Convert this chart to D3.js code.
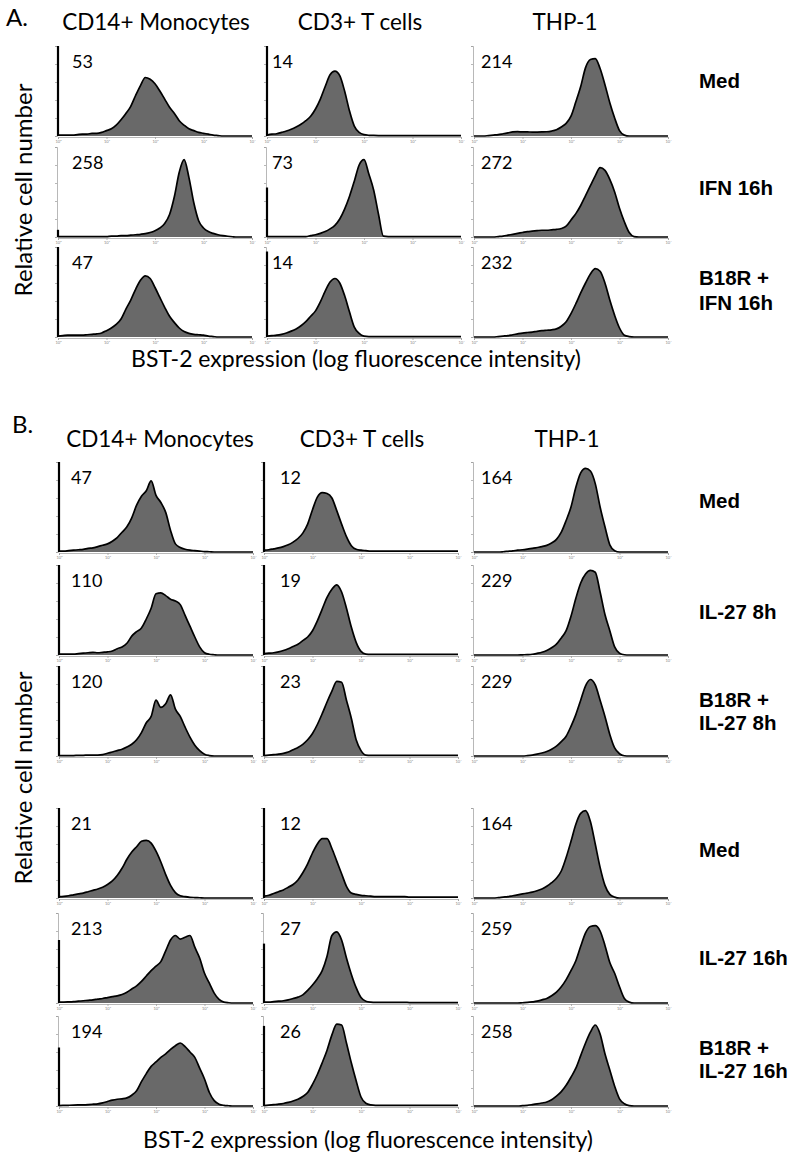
<!DOCTYPE html>
<html><head><meta charset="utf-8">
<script src="https://cdn.jsdelivr.net/npm/d3@7/dist/d3.min.js"></script>
<style>body{margin:0;background:#fff}svg{display:block}</style>
</head><body>
<svg id="chart" width="796" height="1159"></svg>
<script>
// ---------- DATA ----------
// histogram bins: log10 fluorescence channel (decades 10^0 .. 10^4)
const bins = [0,0.1,0.2,0.3,0.4,0.5,0.6,0.7,0.8,0.9,
              1,1.1,1.2,1.3,1.4,1.5,1.6,1.7,1.8,1.9,
              2,2.1,2.2,2.3,2.4,2.5,2.6,2.7,2.8,2.9,
              3,3.1,3.2,3.3,3.4,3.5,3.6,3.7,3.8,3.9,4];
const xTickLabels = ["10\u2070","10\u00B9","10\u00B2","10\u00B3","10\u2074"];
const cellTypes = ["CD14+ Monocytes", "CD3+ T cells", "THP-1"];
const conditionsA = [["Med"], ["IFN 16h"], ["B18R +", "IFN 16h"]];
const conditionsB = [["Med"], ["IL-27 8h"], ["B18R +", "IL-27 8h"], ["Med"], ["IL-27 16h"], ["B18R +", "IL-27 16h"]];
const mfiA = [[53, 14, 214], [258, 73, 272], [47, 14, 232]];
const mfiB = [[47, 12, 164], [110, 19, 229], [120, 23, 229], [21, 12, 164], [213, 27, 259], [194, 26, 258]];
// height (% of axis) of the first-channel pile-up
const spikeA = [[100, 100, 0], [8, 55, 0], [100, 95, 0]];
const spikeB = [[100, 100, 0], [100, 100, 0], [100, 100, 0], [100, 100, 0], [70, 66, 0], [65, 89, 0]];

// relative cell number (% of axis) per bin
const A_mono_med = [1,1,1,1,1.5,2,2,3,3,4, 6,8,12,18,25,33,45,56,65,63, 58,50,41,32,25,17,12,8,6,4, 3,2,1,0.5,0,0,0,0,0,0, 0];
const A_T_med    = [1,2,2.5,4,5.5,7.5,10,13,17,22, 30,41,55,68,72,67,50,28,11,4, 1.5,0.8,0.6,0.5,0.5,0.5,0.5,0.5,0.5,0.5, 0.5,0.5,0.5,0.5,0.5,0.5,0.5,0.5,0.5,0.5, 0.5];
const A_THP_med  = [0,0,0,0.5,1,1.5,2.5,3.5,4.5,4.8, 4.5,4.5,4.4,4.4,4.5,4.7,5.5,7,10,14, 22,38,55,76,85,86,75,57,37,20, 6,1,0,0,0,0,0,0,0,0, 0];
const A_mono_ifn = [0.5,0.5,0.5,0.5,0.5,0.5,0.5,0.5,0.5,0.5, 0.5,1,1,1.5,1.5,2,2.5,3,3.7,5, 7,10,15,25,45,72,86,66,38,18, 10,6,4,2.5,1.5,0.8,0.3,0,0,0, 0];
const A_T_ifn    = [0.5,0.5,0.5,0.5,0.5,0.5,0.5,0.5,0.5,1.5, 2.5,4,6,9,13,20,31,45,62,80, 86,70,52,25,1,0.5,0.5,0.5,0.5,0.5, 0.5,0.5,0.5,0.5,0.5,0.5,0.5,0.5,0.5,0.5, 0.5];
const A_THP_ifn  = [0,0,0,0,0,0.5,1,2,3,4, 5,6,6.5,7,7.5,7.5,8,8.5,9.5,12, 19,26,35,46,57,68,77,74,64,50, 32,17,5,0.5,0,0,0,0,0,0, 0];
const A_mono_b18 = [1,1.5,2,2,2,2,2.5,3,3.5,4.5, 7,10,14,20,31,41,53,63,68,65, 55,44,33,23,16,10,6,4,3,2.5, 2,1,0.5,0,0,0,0,0,0,0, 0];
const A_T_b18    = [1,1.5,2,3,4.5,6.5,9,12.5,17,23, 29,39,51,61,65,60,46,28,11,4, 1,0.5,0.5,0.5,0.5,0.5,0.5,0.5,0.5,0.5, 0.5,0.5,0.5,0.5,0.5,0.5,0.5,0.5,0.5,0.5, 0.5];
const A_THP_b18  = [0,0,0,0,0,0.5,1,1.5,2.5,3.5, 4.4,5,5.5,6.3,7,7.5,8,9,12,17, 26,37,49,60,70,76,73,60,41,24, 10,2,0.5,0,0,0,0,0,0,0, 0];

const B_mono_med8  = [1,1,1.5,2,2.5,3,4,4.5,6,7.5, 9,12,16,22,28,38,52,62,68,79, 63,55,44,24,9,5,3,2,1.5,1, 0.5,0.3,0,0,0,0,0,0,0,0, 0];
const B_T_med8     = [2,2.5,3.5,4.5,6,8,11,15,21,31, 47,61,66,65,60,46,31,17,7,3, 2,1.5,1,1,1,1,1,1,1,1, 1,1,1,1,1,1,1,1,1,1, 1];
const B_THP_med8   = [0,0,0,0,0,0,0.3,0.8,1.3,2, 2.5,3.2,4,5,6,7.4,10,14,22,35, 50,72,88,93,90,76,50,28,8,1.5, 0,0,0,0,0,0,0,0,0,0, 0];
const B_mono_il8   = [1,1,1,1,1.5,2,2.5,3,2.5,3, 3.5,4.5,7,9,13,21,26,30,40,52, 68,69,66,62,60,56,44,32,20,9, 2.5,0.8,0.3,0,0,0,0,0,0,0, 0];
const B_T_il8      = [1.5,2,2.5,3.5,5,7,9.5,12,16,20, 27,38,51,64,73,78,70,52,31,14, 4,1,0.7,0.7,0.7,0.7,0.7,0.7,0.7,0.7, 0.7,0.7,0.7,0.7,0.7,0.7,0.7,0.7,0.7,0.7, 0.7];
const B_THP_il8    = [0,0,0,0,0,0,0,0,0,0, 0.2,0.4,0.8,1.8,3,5,8,12,19,27, 43,63,80,90,94,92,70,45,27,9, 2,0.3,0,0,0,0,0,0,0,0, 0];
const B_mono_b8    = [0.5,0.5,0.5,0.5,0.8,0.8,1,1,1,1.5, 3,4.5,6,7.5,10,13,18,26,37,44, 62,54,58,68,52,44,32,21,12,6, 2,0.5,0,0,0,0,0,0,0,0, 0];
const B_T_b8       = [0.5,1,1.5,2,3,4.5,7,9.5,13,18, 25,35,47,60,72,83,82,62,42,18, 6,1,0.7,0.7,0.7,0.7,0.7,0.7,0.7,0.7, 0.7,0.7,0.7,0.7,0.7,0.7,0.7,0.7,0.7,0.7, 0.7];
const B_THP_b8     = [0,0,0,0,0,0,0,0,0,0, 0,0.4,1,2,3.3,5,7.5,11,16,22, 33,46,62,78,85,79,62,44,24,9, 2.5,0.3,0,0,0,0,0,0,0,0, 0];
const B_mono_med16 = [1.5,1.8,2.5,3.5,4.5,5.5,7,8.5,10,12, 15,19,25,33,43,51,57,63,64,61, 52,40,26,14,6,2.5,1.5,0.8,0.5,0.3, 0,0,0,0,0,0,0,0,0,0, 0];
const B_T_med16    = [2,3,5,7,9,12,15,20,28,38, 50,60,66,66,55,41,27,13,5.5,4, 3,2.5,2,1.5,1.5,1.5,1.5,1.5,1.5,1.5, 1,1,1,1,1,1,1,1,1,1, 1];
const B_THP_med16  = [0,0,0,0,0,0.4,1,1.5,2.5,3.5, 4.5,5.5,6.5,8,10,13,17,22,30,45, 63,82,94,97,85,60,34,14,4,1, 0,0,0,0,0,0,0,0,0,0, 0];
const B_mono_il16  = [1,1,1.2,1.5,2,2.5,3,3.5,4.3,5, 6,7,8,9.5,12,15.5,19,24,30,36, 41,46,58,70,75,71,73,75,62,50, 33,22,11,4,1,0.3,0,0,0,0, 0];
const B_T_il16     = [1,1,1.5,2,2.5,3.5,5,6.5,9,14, 20,27,36,52,75,79,70,50,32,17, 6,2,1,0.7,0.7,0.7,0.7,0.7,0.7,0.7, 0.5,0.5,0.5,0.5,0.5,0.5,0.5,0.5,0.5,0.5, 0.5];
const B_THP_il16   = [0,0,0,0,0,0,0,0,0,0, 0.3,0.6,1.2,2,3.5,5,8,12,18,26, 36,47,63,78,85,86,80,64,45,33, 18,5,1,0,0,0,0,0,0,0, 0];
const B_mono_b16   = [0.5,0.7,0.8,1,1.2,1.3,1.6,2,2.4,3.5, 5,6.5,7.5,8,9,12,17,27,36,44, 49,54,58,63,67,70,66,60,54,42, 30,15,6,2,0.7,0.3,0,0,0,0, 0];
const B_T_b16      = [0.5,1,1.5,2,2.8,4,5.5,7.5,10.5,15, 24,35,48,62,79,91,90,70,48,28, 10,3,1.2,0.7,0.7,0.7,0.7,0.7,0.7,0.7, 0.7,0.7,0.7,0.7,0.7,0.7,0.7,0.7,0.7,0.7, 0.7];
const B_THP_b16    = [0,0,0,0,0,0,0,0,0,0, 0.4,0.8,1.5,2.3,3.3,4.5,7,11,16,23, 32,42,56,70,82,90,80,58,40,22, 8,2.5,0.5,0,0,0,0,0,0,0, 0];

const histA = [[A_mono_med, A_T_med, A_THP_med], [A_mono_ifn, A_T_ifn, A_THP_ifn], [A_mono_b18, A_T_b18, A_THP_b18]];
const histB = [[B_mono_med8, B_T_med8, B_THP_med8], [B_mono_il8, B_T_il8, B_THP_il8], [B_mono_b8, B_T_b8, B_THP_b8],
               [B_mono_med16, B_T_med16, B_THP_med16], [B_mono_il16, B_T_il16, B_THP_il16], [B_mono_b16, B_T_b16, B_THP_b16]];

// ---------- LAYOUT ----------
const W = 194, H = 90;
const FONT = "Lato, 'Open Sans', sans-serif";
const BOLD = "'Liberation Sans', Arial, sans-serif";
const panels = [
  { letter: "A.", letterX: 6, letterY: 26, headerY: 30, headerX: [156, 360, 565],
    colX: [58, 267, 474], baseY: [136, 237, 337], lblDx: [14, 5, 7],
    hist: histA, mfi: mfiA, spike: spikeA, cond: conditionsA,
    condY: [[88], [195], [285, 310]],
    yTitle: [32, 190], xTitle: [356, 367] },
  { letter: "B.", letterX: 12, letterY: 433, headerY: 447, headerX: [160, 362, 567],
    colX: [59, 264, 474], baseY: [552, 655, 756, 898, 1003, 1106], lblDx: [12, 16, 7],
    hist: histB, mfi: mfiB, spike: spikeB, cond: conditionsB,
    condY: [[508], [619], [707, 730], [857], [965], [1055, 1078]],
    yTitle: [32, 778], xTitle: [368, 1148] }
];

const svg = d3.select("#chart");
const x = d3.scaleLinear().domain([0, 4]).range([0, W]);
const y = d3.scaleLinear().domain([0, 100]).range([H, 0]);
const area = d3.area().x((d, i) => x(bins[i])).y0(H).y1(d => y(d)).curve(d3.curveMonotoneX);
const line = d3.line().x((d, i) => x(bins[i])).y(d => y(d)).curve(d3.curveMonotoneX);

panels.forEach(P => {
  svg.append("text").attr("x", P.letterX).attr("y", P.letterY)
    .attr("font-family", FONT).attr("font-size", 24).text(P.letter);
  cellTypes.forEach((c, j) => {
    svg.append("text").attr("x", P.headerX[j]).attr("y", P.headerY)
      .attr("text-anchor", "middle").attr("font-family", FONT).attr("font-size", 22.5).text(c);
  });
  P.hist.forEach((row, r) => {
    row.forEach((vals, j) => {
      const g = svg.append("g").attr("transform", `translate(${P.colX[j]},${P.baseY[r] - H})`);
      // y axis (thin grey)
      const ya = g.append("g").attr("transform", "translate(-1,0)")
        .call(d3.axisLeft(y).tickValues([0, 20, 40, 60, 80, 100]).tickSize(2).tickFormat(""));
      ya.selectAll("path,line").attr("stroke", "#9a9a9a").attr("stroke-width", 0.7);
      // x axis
      const xa = g.append("g").attr("transform", `translate(0,${H + 1})`)
        .call(d3.axisBottom(x).tickValues([0, 1, 2, 3, 4]).tickSize(2).tickPadding(1)
          .tickFormat((d, i) => xTickLabels[i]));
      xa.selectAll("path,line").attr("stroke", "#9a9a9a").attr("stroke-width", 0.7);
      xa.selectAll("text").attr("font-size", 4).attr("fill", "#888").attr("font-family", FONT);
      // histogram
      g.append("path").datum(vals).attr("d", area).attr("fill", "#696969");
      g.append("path").datum(vals).attr("d", line).attr("fill", "none")
        .attr("stroke", "#000").attr("stroke-width", 1.7).attr("stroke-linejoin", "round");
      // first-channel pile-up
      const sp = P.spike[r][j];
      if (sp > 0) {
        g.append("line").attr("x1", x(0)).attr("x2", x(0)).attr("y1", y(0)).attr("y2", y(sp))
          .attr("stroke", "#000").attr("stroke-width", 2.2);
      }
      // value label
      g.append("text").attr("x", P.lblDx[j]).attr("y", H - 68)
        .attr("font-family", FONT).attr("font-size", 18).text(P.mfi[r][j]);
    });
    P.cond[r].forEach((t, k) => {
      svg.append("text").attr("x", 699).attr("y", P.condY[r][k])
        .attr("font-family", BOLD).attr("font-weight", "bold").attr("font-size", 20.5).text(t);
    });
  });
  svg.append("text").attr("transform", `translate(${P.yTitle[0]},${P.yTitle[1]}) rotate(-90)`)
    .attr("text-anchor", "middle").attr("font-family", FONT).attr("font-size", 24).text("Relative cell number");
  svg.append("text").attr("x", P.xTitle[0]).attr("y", P.xTitle[1])
    .attr("text-anchor", "middle").attr("font-family", FONT).attr("font-size", 23)
    .text("BST-2 expression (log fluorescence intensity)");
});
</script>
</body></html>
